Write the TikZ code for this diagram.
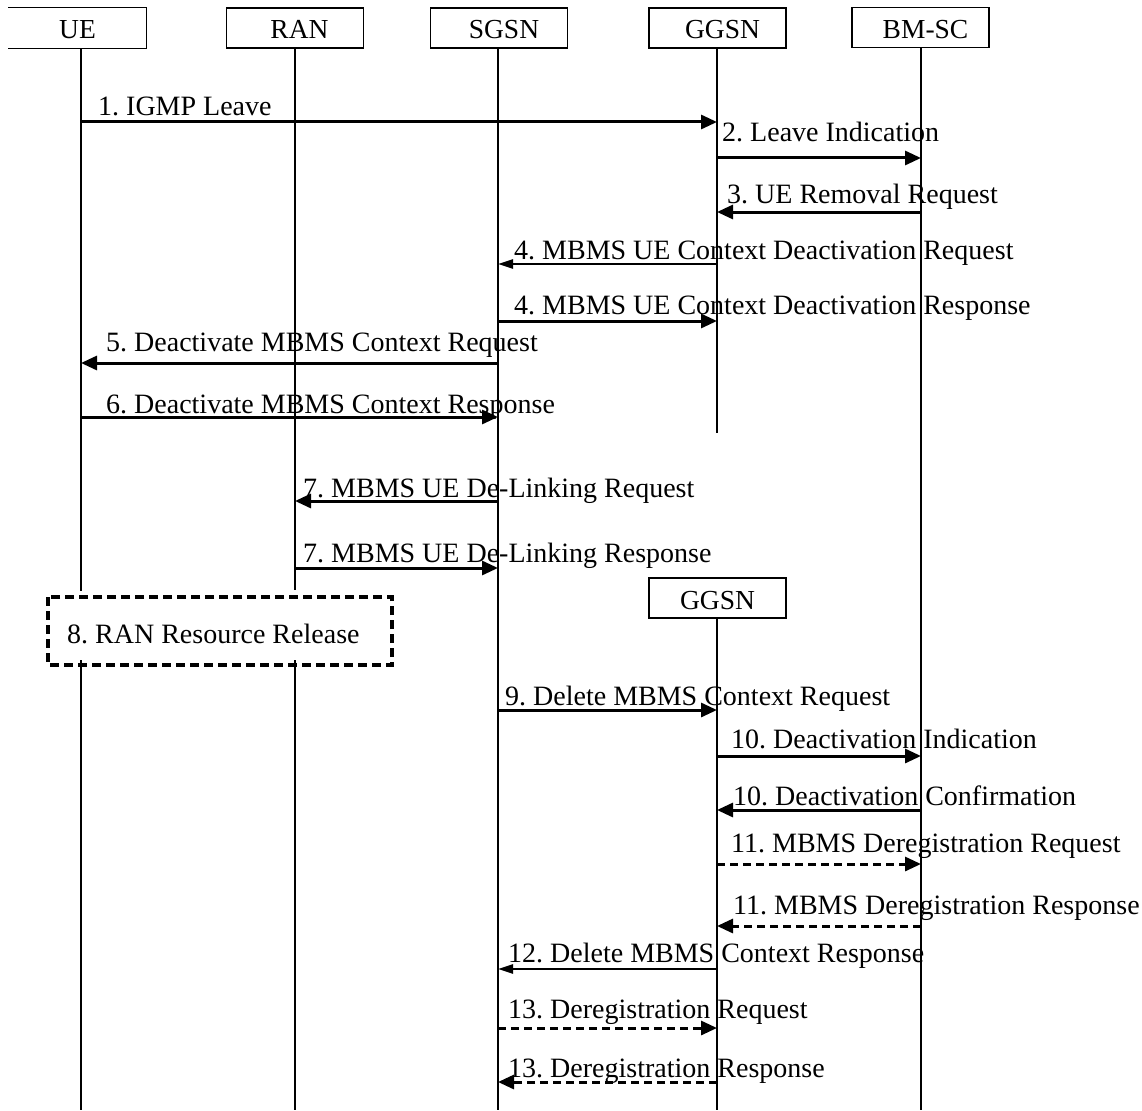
\documentclass[tikz,border=0pt]{standalone}
\usepackage{fontspec}
\setmainfont{Liberation Serif}
\usetikzlibrary{arrows.meta}
\frenchspacing
\begin{document}
\begin{tikzpicture}[x=1pt,y=-1pt,
  hdr/.style={draw, line width=1.4pt, minimum width=137pt, minimum height=40pt, inner sep=0pt, text height=22pt, text depth=0pt, font=\fontsize{27.5}{32}\selectfont},
  life/.style={line width=1.3pt},
  msg/.style={line width=3pt, -{Triangle[length=16pt,width=14pt]}},
  smallmsg/.style={line width=2.4pt, -{Triangle[length=15pt,width=9pt]}},
  dmsg/.style={msg, dash pattern=on 8pt off 5pt},
  lbl/.style={anchor=base west, inner sep=0pt, font=\fontsize{28}{32}\selectfont},
  relbox/.style={draw, line width=3.2pt, dash pattern=on 9pt off 5pt}
]
\path[fill=white,use as bounding box] (0,0) rectangle (1142,1110);

% headers
\node[hdr, draw=none] (ue) at (77.5,28) {UE};
\draw[line width=1.4pt] (ue.north west) -- (ue.north east) -- (ue.south east) -- (ue.south west);
\node[hdr] (ran) at (295,28) {\hspace*{9pt}RAN};
\node[hdr] (sgsn) at (499,28) {\hspace*{10pt}SGSN};
\node[hdr] (ggsn) at (717.5,28) {\hspace*{10pt}GGSN};
\node[hdr] (bmsc) at (920.5,27.5) {\hspace*{10pt}BM-SC};
\node[hdr] (ggsnb) at (717.5,598) {GGSN};

% lifeline x positions
\coordinate (uex) at (81,0);
\coordinate (ranx) at (295,0);
\coordinate (sgx) at (498,0);
\coordinate (ggx) at (717,0);
\coordinate (bmx) at (921,0);

% lifelines
\draw[life] (uex |- ue.south) -- (81,591) (81,660) -- (81,1110);
\draw[life] (ranx |- ran.south) -- (295,590) (295,660) -- (295,1110);
\draw[life] (sgx |- sgsn.south) -- (498,1110);
\draw[life] (ggx |- ggsn.south) -- (717,433);
\draw[life] (ggx |- ggsnb.south) -- (717,1110);
\draw[life] (bmx |- bmsc.south) -- (921,1110);

% messages
\draw[msg] (uex |- 0,122) -- (ggx |- 0,122);
\node[lbl] (l1) at (98,116) {1. IGMP Leave};

\draw[msg] (ggx |- 0,158) -- (bmx |- 0,158);
\node[lbl] (l2) at (722,142) {2. Leave Indication};

\draw[msg] (bmx |- 0,212) -- (ggx |- 0,212);
\node[lbl] (l3) at (727,204) {3. UE Removal Request};

\draw[smallmsg] (ggx |- 0,264) -- (sgx |- 0,264);
\node[lbl] (l4a) at (514,259) {4. MBMS UE Context Deactivation Request};

\draw[msg] (sgx |- 0,321) -- (ggx |- 0,321);
\node[lbl] (l4b) at (514,314) {4. MBMS UE Context Deactivation Response};

\draw[msg] (sgx |- 0,363) -- (uex |- 0,363);
\node[lbl] (l5) at (106,351) {5. Deactivate MBMS Context Request};

\draw[msg] (uex |- 0,417) -- (sgx |- 0,417);
\node[lbl] (l6) at (106,413) {6. Deactivate MBMS Context Response};

\draw[msg] (sgx |- 0,501) -- (ranx |- 0,501);
\node[lbl] (l7a) at (303,497) {7. MBMS UE De-Linking Request};

\draw[msg] (ranx |- 0,568) -- (sgx |- 0,568);
\node[lbl] (l7b) at (303,562) {7. MBMS UE De-Linking Response};

\draw[relbox] (48,597) rectangle (392,665);
\node[lbl] (l8) at (67,643) {8. RAN Resource Release};

\draw[msg] (sgx |- 0,710) -- (ggx |- 0,710);
\node[lbl] (l9) at (505,705) {9. Delete MBMS Context Request};

\draw[msg] (ggx |- 0,756) -- (bmx |- 0,756);
\node[lbl] (l10a) at (731,748) {10. Deactivation Indication};

\draw[msg] (bmx |- 0,810) -- (ggx |- 0,810);
\node[lbl] (l10b) at (733,805) {10. Deactivation Confirmation};

\draw[dmsg] (ggx |- 0,864) -- (bmx |- 0,864);
\node[lbl] (l11a) at (731,852) {11. MBMS Deregistration Request};

\draw[dmsg] (bmx |- 0,926) -- (ggx |- 0,926);
\node[lbl] (l11b) at (733,914) {11. MBMS Deregistration Response};

\draw[smallmsg] (ggx |- 0,969) -- (sgx |- 0,969);
\node[lbl] (l12) at (508,962) {12. Delete MBMS Context Response};

\draw[dmsg] (sgx |- 0,1028) -- (ggx |- 0,1028);
\node[lbl] (l13a) at (508,1018) {13. Deregistration Request};

\draw[dmsg] (ggx |- 0,1082) -- (sgx |- 0,1082);
\node[lbl] (l13b) at (508,1077) {13. Deregistration Response};
\end{tikzpicture}
\end{document}
